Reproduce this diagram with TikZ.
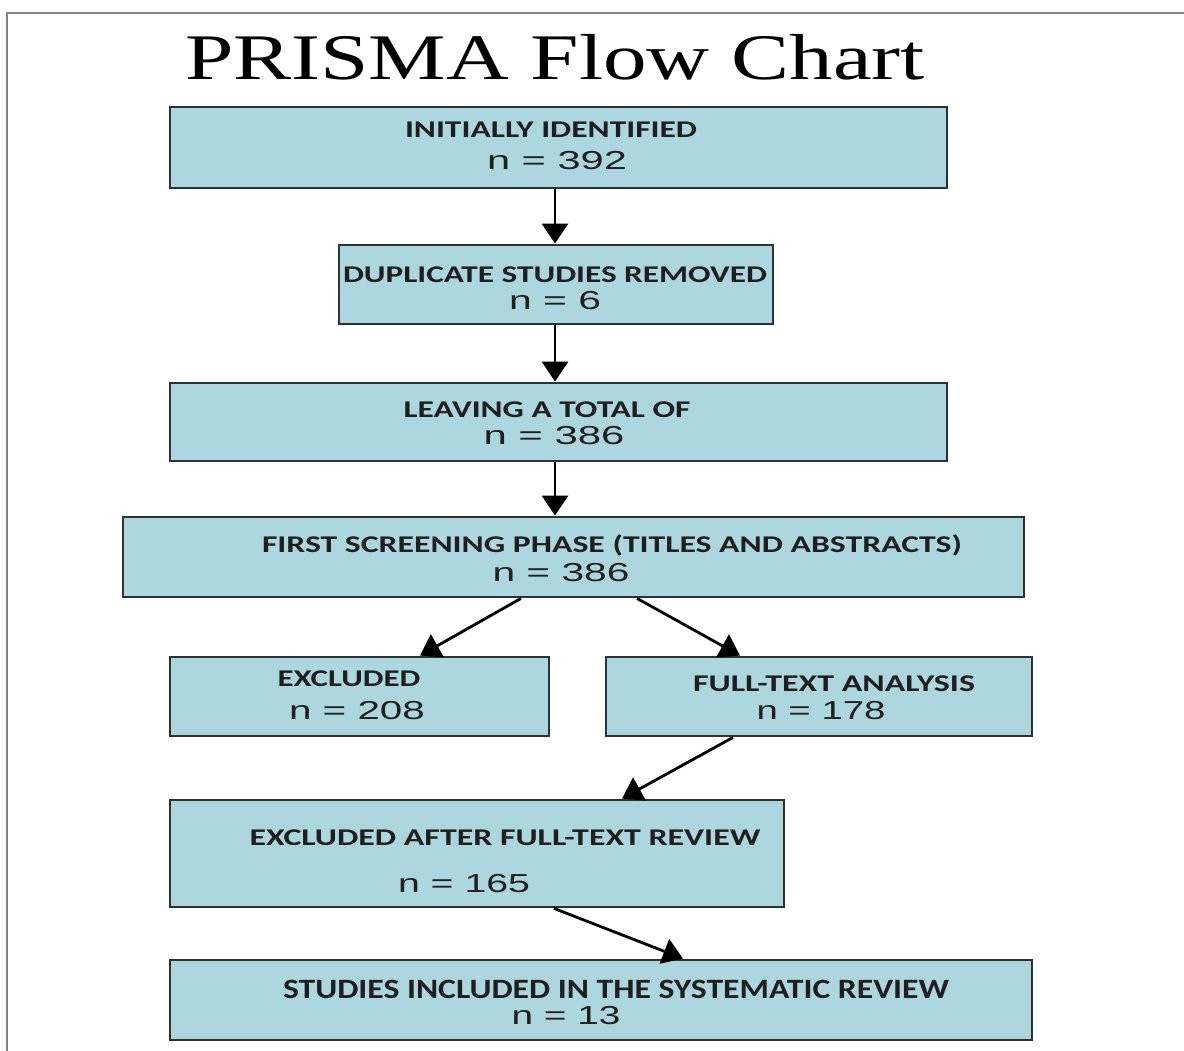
\documentclass[tikz,border=0pt]{standalone}
\usepackage{fontspec}
\usepackage{graphicx}
\setmainfont{Liberation Serif}
\newfontfamily\labelfont{Carlito}[BoldFont=* Bold]
\newfontfamily\numfont{Liberation Sans}
\usetikzlibrary{arrows.meta}

\definecolor{boxfill}{RGB}{172,215,223}
\definecolor{boxline}{RGB}{45,50,52}
\definecolor{inktext}{RGB}{30,30,30}
\definecolor{framegray}{RGB}{130,130,130}

% set a line of text and stretch it horizontally to a given width (in pt)
\newsavebox\fitbox
\newcommand\fitw[2]{\sbox\fitbox{#2}\pgfmathsetmacro\fitsx{#1/\wd\fitbox}\scalebox{\fitsx}[1]{\usebox\fitbox}}

\tikzset{
  stage/.style={draw=boxline, line width=2.8pt, fill=boxfill, inner sep=0pt},
  lbl/.style={inner sep=0pt, text=inktext, font=\labelfont\bfseries\fontsize{24}{27}\selectfont},
  num/.style={inner sep=0pt, text=inktext, font=\numfont\fontsize{26}{29}\selectfont},
  flow/.style={line width=2.8pt, black, -{Triangle[length=20pt,width=26pt]}},
}

\begin{document}
\begin{tikzpicture}[x=1pt,y=-1pt]
\useasboundingbox (0,0) rectangle (1184,1051);
\fill[white] (0,0) rectangle (1184,1051);

% page frame (top and left edges)
\draw[framegray, line width=1.6pt] (7,1051) -- (7,13) -- (1184,13);

% title
\node[inner sep=0pt, font=\fontsize{65}{68}\selectfont] (title) at (555,57) {\fitw{740}{PRISMA Flow Chart}};

% stages
\node[stage, minimum width=777pt, minimum height=81pt] (b1) at (558.5,147.5) {};
\node[stage, minimum width=434pt, minimum height=79pt] (b2) at (556,284.5) {};
\node[stage, minimum width=777pt, minimum height=78pt] (b3) at (558.5,422) {};
\node[stage, minimum width=901pt, minimum height=80pt] (b4) at (573.5,557) {};
\node[stage, minimum width=379pt, minimum height=79pt] (b5) at (359.5,696.5) {};
\node[stage, minimum width=426pt, minimum height=79pt] (b6) at (819,696.5) {};
\node[stage, minimum width=614pt, minimum height=107pt] (b7) at (477,853.5) {};
\node[stage, minimum width=862pt, minimum height=80pt] (b8) at (601,1000) {};

% stage texts
\node[lbl] (b1t) at (551,130) {\fitw{292}{INITIALLY IDENTIFIED}};
\node[num] (b1n) at (557,161) {\fitw{140}{n = 392}};
\node[lbl] (b2t) at (555,275) {\fitw{424}{DUPLICATE STUDIES REMOVED}};
\node[num] (b2n) at (555,301) {\fitw{92}{n = 6}};
\node[lbl] (b3t) at (547,410) {\fitw{287}{LEAVING A TOTAL OF}};
\node[num] (b3n) at (554,436) {\fitw{141}{n = 386}};
\node[lbl] (b4t) at (612,545) {\fitw{700}{FIRST SCREENING PHASE (TITLES AND ABSTRACTS)}};
\node[num] (b4n) at (561,573) {\fitw{137}{n = 386}};
\node[lbl] (b5t) at (349,679) {\fitw{143}{EXCLUDED}};
\node[num] (b5n) at (357,711) {\fitw{136}{n = 208}};
\node[lbl] (b6t) at (834,684) {\fitw{282}{FULL-TEXT ANALYSIS}};
\node[num] (b6n) at (821,711) {\fitw{129}{n = 178}};
\node[lbl] (b7t) at (505,838) {\fitw{511}{EXCLUDED AFTER FULL-TEXT REVIEW}};
\node[num] (b7n) at (464,884) {\fitw{132}{n = 165}};
\node[lbl, font=\labelfont\bfseries\fontsize{28}{30}\selectfont] (b8t) at (616,989) {\fitw{666}{STUDIES INCLUDED IN THE SYSTEMATIC REVIEW}};
\node[num] (b8n) at (566,1016) {\fitw{109}{n = 13}};

% connectors
\draw[flow] ([xshift=-3.5pt]b1.south) -- ([xshift=-1pt]b2.north);
\draw[flow] ([xshift=-1pt]b2.south) -- ([xshift=-3.5pt]b3.north);
\draw[flow] ([xshift=-3.5pt]b3.south) -- ([xshift=-18.5pt]b4.north);
\draw[flow] ([xshift=-52.5pt]b4.south) -- ([xshift=60.5pt]b5.north);
\draw[flow] ([xshift=63.5pt]b4.south) -- ([xshift=-79pt]b6.north);
\draw[flow] ([xshift=-86pt]b6.south) -- ([xshift=145pt]b7.north);
\draw[flow] ([xshift=77pt]b7.south) -- ([xshift=82pt]b8.north);
\end{tikzpicture}
\end{document}
